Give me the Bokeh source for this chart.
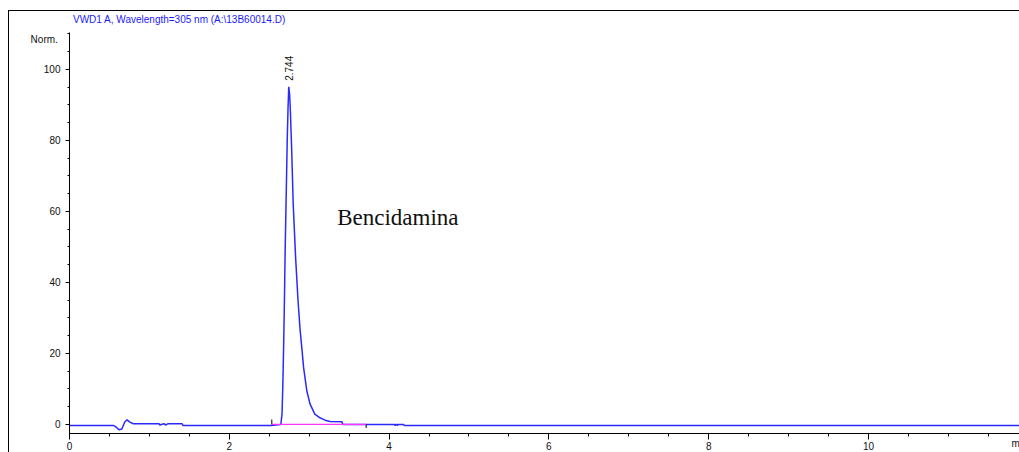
import math

from bokeh.embed import file_html
from bokeh.models import Label, Range1d, SingleIntervalTicker
from bokeh.plotting import figure
from bokeh.resources import INLINE

# Detector signal (VWD1 A, 305 nm): retention time in minutes and response in Norm. units
time_min = [
    0.00, 0.55, 0.58, 0.62, 0.655, 0.69, 0.72, 0.76, 0.80, 1.12,
    1.13, 1.15, 1.18, 1.21, 1.23, 1.41, 1.42, 2.52, 2.645, 2.66,
    2.67, 2.68, 2.69, 2.70, 2.715, 2.725, 2.735, 2.744, 2.755, 2.765,
    2.78, 2.80, 2.83, 2.86, 2.885, 2.91, 2.93, 2.97, 3.01, 3.07,
    3.14, 3.20, 3.26, 3.41, 3.42, 4.07, 4.075, 4.08, 4.10, 4.105,
    4.11, 4.18, 4.19, 11.89,
]
signal = [
    -0.28, -0.28, -0.7, -1.5, -1.3, 0.6, 1.3, 0.6, 0.2, 0.2,
    -0.15, 0.0, 0.2, -0.15, 0.2, 0.2, -0.28, -0.28, -0.05, 3.0,
    11.0, 22.0, 35.0, 50.0, 68.0, 80.0, 89.0, 95.1, 93.0, 88.0,
    78.0, 62.0, 47.0, 35.0, 27.0, 21.0, 16.0, 9.5, 5.8, 2.9,
    1.8, 1.2, 0.85, 0.75, 0.0, 0.0, -0.4, 0.0, 0.0, -0.4,
    0.0, 0.0, -0.28, -0.28,
]

# Integrated peak: retention time, apex height, baseline start/end
peak_rt = [2.744]
peak_height = [95.1]
peak_start = [2.532]
peak_end = [3.713]
compound = "Bencidamina"
compound_pos = (3.35, 58.2)
signal_title = "VWD1 A, Wavelength=305 nm (A:\\13B60014.D)"

SANS = "Liberation Sans"

p = figure(
    width=1019,
    height=452,
    output_backend="svg",
    toolbar_location=None,
    x_range=Range1d(0, 11.89),
    y_range=Range1d(-2.55, 110.4),
    min_border_left=69,
    min_border_right=0,
    min_border_top=32,
    min_border_bottom=19,
)
p.outline_line_color = None
p.background_fill_color = None
p.border_fill_color = None
p.xgrid.visible = False
p.ygrid.visible = False
# white page with a thin frame line along the left and top edges
p.styles = {
    "background": (
        "linear-gradient(#000, #000) 8px 10px / 1px 100% no-repeat, "
        "linear-gradient(#000, #000) 8px 10px / 100% 1px no-repeat, #fff"
    ),
}

# Signal description above the plot area
p.title.text = signal_title
p.title.align = "left"
p.title.offset = 3.5
p.title.standoff = 15
p.title.text_font = SANS
p.title.text_font_size = "10px"
p.title.text_font_style = "normal"
p.title.text_color = "#1a1aff"

# Axes
p.xaxis.ticker = SingleIntervalTicker(interval=2, num_minor_ticks=4)
p.yaxis.ticker = SingleIntervalTicker(interval=20, num_minor_ticks=4)
for ax in (p.xaxis, p.yaxis):
    ax.axis_line_color = "black"
    ax.axis_line_width = 1
    ax.major_tick_line_color = "black"
    ax.minor_tick_line_color = "black"
    ax.major_tick_in = 0
    ax.minor_tick_in = 0
    ax.major_label_text_font = SANS
    ax.major_label_text_font_size = "10px"
    ax.major_label_text_color = "#111111"
    ax.axis_label_text_font = SANS
    ax.axis_label_text_font_size = "10px"
    ax.axis_label_text_font_style = "normal"
    ax.axis_label_text_color = "#111111"
    ax.axis_label_align = "end"
p.xaxis.major_tick_out = 6
p.xaxis.minor_tick_out = 3
p.xaxis.major_label_standoff = 2
p.xaxis.axis_label = "min"
p.xaxis.axis_label_standoff = -15
p.yaxis.major_tick_out = 4
p.yaxis.minor_tick_out = 2
p.yaxis.major_label_standoff = 5
p.yaxis.axis_label = "\nNorm."
p.yaxis.axis_label_orientation = "horizontal"
p.yaxis.axis_label_standoff = -17

# Chromatogram trace
p.line(time_min, signal, line_color="#2a2aff", line_width=1.5)

# Integration baseline and start/end markers
p.segment(x0=peak_start, y0=[0], x1=peak_end, y1=[0], line_color="#ff33ff", line_width=1.2)
p.segment(x0=peak_start, y0=[0], x1=peak_start, y1=[1.4], line_color="black", line_width=1)
p.segment(x0=peak_end, y0=[0], x1=peak_end, y1=[-1.0], line_color="black", line_width=1)

# Retention time label above the apex
for rt, h in zip(peak_rt, peak_height):
    p.add_layout(Label(
        x=rt, y=h, y_offset=6, text=f"{rt:.3f}", angle=math.pi / 2,
        text_align="left", text_baseline="middle",
        text_font=SANS, text_font_size="10px", text_color="#111111",
    ))

# Compound name
p.add_layout(Label(
    x=compound_pos[0], y=compound_pos[1], text=compound,
    text_font="Liberation Serif", text_font_size="23px",
    text_baseline="alphabetic", text_color="#111111",
))

open("out.html", "w").write(file_html(p, INLINE))
